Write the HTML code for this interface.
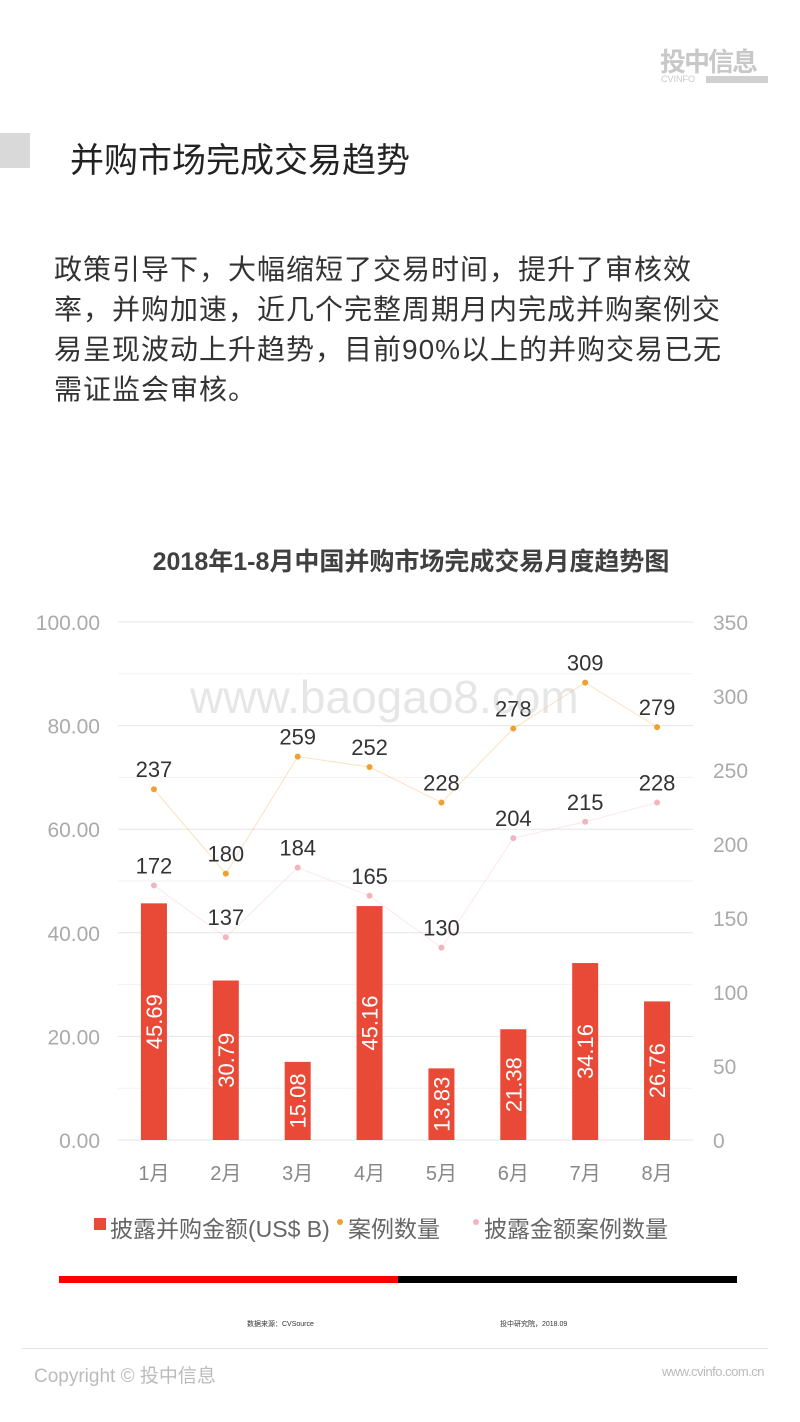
<!DOCTYPE html>
<html><head><meta charset="utf-8">
<style>
body{margin:0;background:#fff;font-family:"Liberation Sans","Noto Sans CJK SC",sans-serif;}
#page{position:relative;width:800px;height:1422px;overflow:hidden;}
.abs{position:absolute;}
</style></head>
<body><div id="page">
<div class="abs" style="left:660px;top:42px;width:110px;color:#c8c8c8;font-weight:bold;font-size:26px;letter-spacing:-2px;">投中信息</div>
<div class="abs" style="left:661px;top:74px;font-size:9px;color:#c8c8c8;">CVINFO</div>
<div class="abs" style="left:706px;top:76px;width:62px;height:7px;background:#d0d0d0;"></div>
<div class="abs" style="left:0;top:133px;width:30px;height:35px;background:#d9d9d9;"></div>
<div class="abs" style="left:70px;top:133px;font-size:34px;color:#222;">并购市场完成交易趋势</div>
<div class="abs" style="left:54px;top:250px;width:680px;font-size:28px;line-height:40px;color:#333;letter-spacing:1px;">政策引导下，大幅缩短了交易时间，提升了审核效率，并购加速，近几个完整周期月内完成并购案例交易呈现波动上升趋势，目前90%以上的并购交易已无需证监会审核。</div>
<div class="abs" style="left:0;width:822px;text-align:center;top:542px;font-size:25px;font-weight:bold;color:#404040;">2018年1-8月中国并购市场完成交易月度趋势图</div>
<svg class="abs" style="left:0;top:0" width="800" height="1422" id="chart"></svg>
<div class="abs" style="left:190px;top:670px;font-size:46px;color:rgba(200,200,200,0.45);">www.baogao8.com</div>
<div class="abs" style="left:59px;top:1276px;width:339px;height:7px;background:#f00;"></div>
<div class="abs" style="left:398px;top:1276px;width:339px;height:7px;background:#000;"></div>
<div class="abs" style="left:247px;top:1319px;font-size:7px;color:#333;">数据来源：CVSource</div>
<div class="abs" style="left:500px;top:1319px;font-size:7px;color:#333;">投中研究院，2018.09</div>
<div class="abs" style="left:22px;top:1348px;width:746px;height:1px;background:#e5e5e5;"></div>
<div class="abs" style="left:34px;top:1361px;font-size:19px;color:#bbb;">Copyright © 投中信息</div>
<div class="abs" style="left:662px;top:1364px;font-size:13px;color:#bbb;letter-spacing:-0.5px;">www.cvinfo.com.cn</div>
<script>
const months=["1月","2月","3月","4月","5月","6月","7月","8月"];
const amounts=[45.69,30.79,15.08,45.16,13.83,21.38,34.16,26.76];
const caseCounts=[237,180,259,252,228,278,309,279];
const disclosedCounts=[172,137,184,165,130,204,215,228];
const leftTicks=["0.00","20.00","40.00","60.00","80.00","100.00"];
const rightTicks=["0","50","100","150","200","250","300","350"];
const svg=document.getElementById('chart');const NS="http://www.w3.org/2000/svg";
const y0=1140,yTop=622,xL=118,xR=693;
const yL=v=>y0-v/100*(y0-yTop);
const yR=v=>y0-v/350*(y0-yTop);
const step=(xR-xL)/8;
const xC=i=>xL+step*(i+0.5);
function mk(t,a,txt){const e=document.createElementNS(NS,t);for(const k in a)e.setAttribute(k,a[k]);if(txt!=null)e.textContent=txt;svg.appendChild(e);return e;}
for(let v=0;v<=100;v+=10){const g=mk('line',{x1:xL,x2:xR,y1:yL(v),y2:yL(v),stroke:v%20?'#f2f2f2':'#e6e6e6','stroke-width':1});

}
leftTicks.forEach((t,i)=>{const e=mk('text',{x:100,y:yL(i*20)+8,'text-anchor':'end','font-size':21,fill:'#aaa'},t);

});
rightTicks.forEach((t,i)=>{const e=mk('text',{x:713,y:yR(i*50)+8,'font-size':21,fill:'#aaa'},t);

});
amounts.forEach((v,i)=>{const b=mk('rect',{x:xC(i)-13,y:yL(v),width:26,height:y0-yL(v),fill:'#e84a37'});


const cy=(yL(v)+y0)/2;const t=mk('text',{x:xC(i),y:cy+8,'text-anchor':'middle','font-size':22,fill:'#fff',transform:`rotate(-90 ${xC(i)} ${cy})`},v.toFixed(2));


const m=mk('text',{x:xC(i),y:1180,'text-anchor':'middle','font-size':20,fill:'#888'},months[i]);

});
function series(vals,color,name){const l=mk('polyline',{points:vals.map((v,i)=>xC(i)+','+yR(v)).join(' '),fill:'none',stroke:color,'stroke-width':1,opacity:0.3});


vals.forEach((v,i)=>{const c=mk('circle',{cx:xC(i),cy:yR(v),r:3,fill:color});


const t=mk('text',{x:xC(i),y:yR(v)-12,'text-anchor':'middle','font-size':22,fill:'#333'},v);

});}
series(caseCounts,'#f0a030','case-count');
series(disclosedCounts,'#f4b4bc','disclosed-count');
const lg=[['rect','#e84a37','披露并购金额(US$ B)',94],['dot','#f0a030','案例数量',340],['dot','#f4b4bc','披露金额案例数量',476]];
lg.forEach(([k,c,txt,x])=>{let m;if(k==='rect')m=mk('rect',{x:x,y:1218,width:12,height:12,fill:c});else m=mk('circle',{cx:x,cy:1222,r:3,fill:c});


const t=mk('text',{x:x+(k==='rect'?16:8),y:1237,'font-size':23,fill:'#666'},txt);

});
</script>
</div></body></html>
